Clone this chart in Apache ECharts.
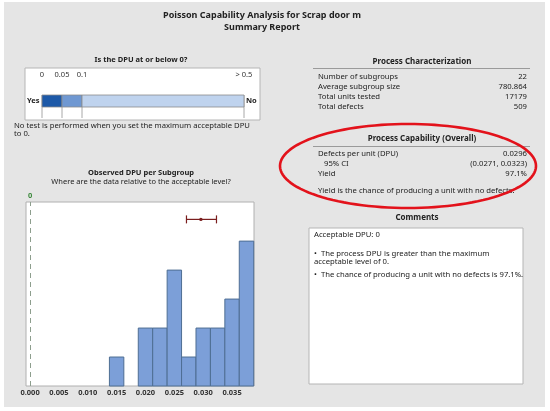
<!DOCTYPE html>
<html>
<head>
<meta charset="utf-8">
<title>Poisson Capability Analysis</title>
<script src="https://cdn.jsdelivr.net/npm/echarts@6/dist/echarts.min.js"></script>
<style>
  body { margin: 0; background: #fff; }
  #main { width: 550px; height: 411px; }
</style>
</head>
<body>
<div id="main"></div>
<script type="text/javascript">

// histogram of observed DPU per subgroup
var binCenters = [0.015, 0.020, 0.0225, 0.025, 0.0275, 0.030, 0.0325, 0.035, 0.0375];
var binCounts  = [1, 2, 2, 4, 1, 2, 2, 3, 5];
var binWidth = 0.0025;
var histTicks = [0, 0.005, 0.010, 0.015, 0.020, 0.025, 0.030, 0.035];
var ciValues = [0.0271, 0.0296, 0.0323];   // low, mean, high
var acceptableDpu = 0;

// "Is the DPU at or below 0?" scale (display positions, not linear)
var dpuTickPos    = [0, 1, 2, 10.1];
var dpuTickLabels = ['0', '0.05', '0.1', '> 0.5'];
var dpuSegStart   = [0, 1, 2];
var dpuSegEnd     = [1, 2, 10.1];
var dpuColors     = ['#1d59a8', '#6f98d2', '#bfd3ee'];

// tables
var charLabels = ['Number of subgroups', 'Average subgroup size', 'Total units tested', 'Total defects'];
var charValues = ['22', '780.864', '17179', '509'];
var capLabels  = ['Defects per unit (DPU)', '   95% CI', 'Yield'];
var capValues  = ['0.0296', '(0.0271, 0.0323)', '97.1%'];

var FONT = 'Noto Sans';
var TXT = '#222';

var myChart = echarts.init(document.getElementById('main'));

function txt(x, y, s, opt) {
    opt = opt || {};
    return {
        type: 'text', silent: true, z: opt.z || 10,
        style: {
            x: x, y: y, text: s,
            fill: opt.color || TXT,
            font: (opt.weight || 'normal') + ' ' + (opt.size || 8) + 'px "' + FONT + '"',
            textAlign: opt.align || 'left',
            textVerticalAlign: 'middle'
        }
    };
}

var graphics = [];
// background panel
graphics.push({ type: 'rect', z: -10, silent: true,
    shape: { x: 4, y: 2, width: 541, height: 405 },
    style: { fill: '#e5e5e5' } });

// titles
graphics.push(txt(262, 15, 'Poisson Capability Analysis for Scrap door m', { align: 'center', size: 9, weight: 'bold' }));
graphics.push(txt(262, 27, 'Summary Report', { align: 'center', size: 9, weight: 'bold' }));

// DPU test box
graphics.push(txt(141, 60, 'Is the DPU at or below 0?', { align: 'center', size: 7.5, weight: 'bold' }));
graphics.push({ type: 'rect', z: -5, silent: true,
    shape: { x: 25, y: 68, width: 235, height: 52 },
    style: { fill: '#fff', stroke: '#b5b5b5', lineWidth: 1 } });
graphics.push(txt(27, 101, 'Yes', { size: 7.5, weight: 'bold' }));
graphics.push(txt(246, 101, 'No', { size: 7.5, weight: 'bold' }));
graphics.push(txt(14, 126, 'No test is performed when you set the maximum acceptable DPU', { size: 7.7 }));
graphics.push(txt(14, 134, 'to 0.', { size: 7.7 }));

// histogram headings
graphics.push(txt(141, 173, 'Observed DPU per Subgroup', { align: 'center', size: 7.5, weight: 'bold' }));
graphics.push(txt(141, 182, 'Where are the data relative to the acceptable level?', { align: 'center', size: 7.5 }));

// process characterization
graphics.push(txt(422, 62, 'Process Characterization', { align: 'center', size: 8, weight: 'bold' }));
graphics.push({ type: 'line', silent: true, shape: { x1: 313, y1: 68.5, x2: 530, y2: 68.5 }, style: { stroke: '#9a9a9a', lineWidth: 1 } });
charLabels.forEach(function (l, i) {
    graphics.push(txt(318, 77 + i * 10, l, { size: 7.7 }));
    graphics.push(txt(527, 77 + i * 10, charValues[i], { size: 7.7, align: 'right' }));
});

// process capability
graphics.push(txt(422, 139, 'Process Capability (Overall)', { align: 'center', size: 8, weight: 'bold' }));
graphics.push({ type: 'line', silent: true, shape: { x1: 313, y1: 146.5, x2: 530, y2: 146.5 }, style: { stroke: '#9a9a9a', lineWidth: 1 } });
capLabels.forEach(function (l, i) {
    graphics.push(txt(318, 154 + i * 10, l, { size: 7.7 }));
    graphics.push(txt(527, 154 + i * 10, capValues[i], { size: 7.7, align: 'right' }));
});
graphics.push(txt(318, 191, 'Yield is the chance of producing a unit with no defects.', { size: 7.7 }));

// red ellipse highlight
var ell = [];
for (var k = 0; k <= 120; k++) {
    var a = k / 120 * Math.PI * 2;
    ell.push([408 + 128 * Math.cos(a), 166 + 42 * Math.sin(a)]);
}
graphics.push({ type: 'polyline', silent: true, z: 20, shape: { points: ell },
    style: { stroke: '#e3121b', lineWidth: 2.6, fill: null } });

// comments
graphics.push(txt(417, 218, 'Comments', { align: 'center', size: 8, weight: 'bold' }));
graphics.push({ type: 'rect', z: -5, silent: true,
    shape: { x: 309, y: 228, width: 214, height: 156 },
    style: { fill: '#fff', stroke: '#b5b5b5', lineWidth: 1 } });
graphics.push(txt(314, 235, 'Acceptable DPU: 0', { size: 7.7 }));
graphics.push(txt(314, 254, '\u2022  The process DPU is greater than the maximum', { size: 7.7 }));
graphics.push(txt(314, 262, 'acceptable level of 0.', { size: 7.7 }));
graphics.push(txt(314, 275, '\u2022  The chance of producing a unit with no defects is 97.1%.', { size: 7.7 }));

function renderBin(params, api) {
    var c = api.value(0), n = api.value(1);
    var p0 = api.coord([c - binWidth / 2, n]);
    var p1 = api.coord([c + binWidth / 2, 0]);
    return {
        type: 'rect',
        shape: { x: p0[0], y: p0[1], width: p1[0] - p0[0], height: p1[1] - p0[1] },
        style: { fill: '#7c9fd8', stroke: '#4e6e93', lineWidth: 1 }
    };
}

function renderCI(params, api) {
    var y = api.value(3);
    var a = api.coord([api.value(0), y]);
    var m = api.coord([api.value(1), y]);
    var b = api.coord([api.value(2), y]);
    var st = { stroke: '#7a1e1e', lineWidth: 1.2 };
    return { type: 'group', children: [
        { type: 'line', shape: { x1: a[0], y1: a[1], x2: b[0], y2: b[1] }, style: st },
        { type: 'line', shape: { x1: a[0], y1: a[1] - 4, x2: a[0], y2: a[1] + 4 }, style: st },
        { type: 'line', shape: { x1: b[0], y1: b[1] - 4, x2: b[0], y2: b[1] + 4 }, style: st },
        { type: 'circle', shape: { cx: m[0], cy: m[1], r: 1.7 }, style: { fill: '#7a1e1e' } }
    ] };
}

function renderSeg(params, api) {
    var p0 = api.coord([api.value(0), 0.92]);
    var p1 = api.coord([api.value(1), 0.44]);
    return {
        type: 'rect',
        shape: { x: p0[0], y: p0[1], width: p1[0] - p0[0], height: p1[1] - p0[1] },
        style: { fill: dpuColors[api.value(2)], stroke: '#8a8a8a', lineWidth: 0.8 }
    };
}

function renderDivider(params, api) {
    var p0 = api.coord([api.value(0), 0.92]);
    var p1 = api.coord([api.value(0), 0]);
    return { type: 'line', shape: { x1: p0[0], y1: p0[1], x2: p1[0], y2: p1[1] },
        style: { stroke: '#a8a8a8', lineWidth: 1 } };
}

option = {
    animation: false,
    textStyle: { fontFamily: FONT },
    graphic: graphics,
    grid: [
        { left: 26, right: 296, top: 202, bottom: 25, show: true,
          backgroundColor: '#fff', borderColor: '#b0b0b0', borderWidth: 1 },
        { left: 42, width: 202, top: 93, height: 25 }
    ],
    xAxis: [
        { type: 'value', gridIndex: 0, min: -0.0007, max: 0.0388,
          axisLine: { show: false }, axisTick: { show: false }, splitLine: { show: false },
          axisLabel: { customValues: histTicks, margin: 3, fontSize: 7.5, fontWeight: 'bold', color: '#333',
                       formatter: function (v) { return v.toFixed(3); } } },
        { type: 'value', gridIndex: 1, min: 0, max: 10.1, position: 'top',
          axisLine: { show: false }, axisTick: { show: false }, splitLine: { show: false },
          axisLabel: { customValues: dpuTickPos, margin: 14, fontSize: 7.5, color: '#333',
                       formatter: function (v) { return dpuTickLabels[dpuTickPos.indexOf(v)]; } } }
    ],
    yAxis: [
        { type: 'value', gridIndex: 0, min: 0, max: 6.35, show: false },
        { type: 'value', gridIndex: 1, min: 0, max: 1, show: false }
    ],
    series: [
        { type: 'custom', xAxisIndex: 0, yAxisIndex: 0, renderItem: renderBin,
          data: binCenters.map(function (c, i) { return [c, binCounts[i]]; }),
          markLine: {
              silent: true, symbol: 'none',
              lineStyle: { type: [5, 4], color: '#8d9e8d', width: 1 },
              label: { position: 'end', formatter: '0', color: '#3d8a3d', fontWeight: 'bold', fontSize: 7.5, distance: 2 },
              data: [{ xAxis: acceptableDpu }]
          } },
        { type: 'custom', xAxisIndex: 0, yAxisIndex: 0, renderItem: renderCI,
          data: [[ciValues[0], ciValues[1], ciValues[2], 5.75]] },
        { type: 'custom', xAxisIndex: 1, yAxisIndex: 1, renderItem: renderDivider,
          data: dpuTickPos.map(function (p) { return [p]; }) },
        { type: 'custom', xAxisIndex: 1, yAxisIndex: 1, renderItem: renderSeg,
          data: dpuSegStart.map(function (s, i) { return [s, dpuSegEnd[i], i]; }) }
    ]
};

myChart.setOption(option);
</script>
</body>
</html>
